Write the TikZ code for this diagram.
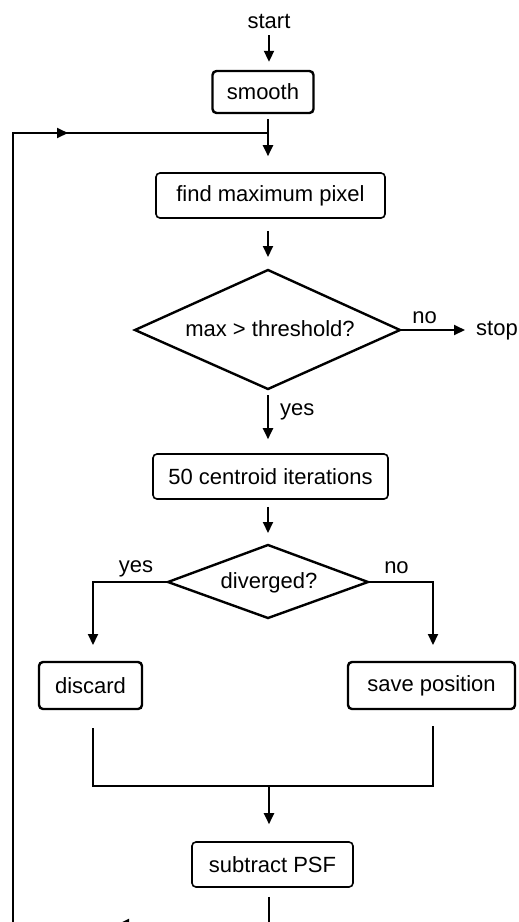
\documentclass[tikz,border=0pt]{standalone}
\usepackage{fontspec}
\setmainfont{Liberation Sans}
\usetikzlibrary{arrows.meta,calc}
\begin{document}
\begin{tikzpicture}[x=1pt,y=-1pt,
  every node/.style={font=\fontsize{22}{26}\selectfont, inner sep=0pt},
  thickbox/.style={draw, line width=2.4pt, rounded corners=4pt},
  thinbox/.style={draw, line width=1.6pt, rounded corners=4pt},
  arr/.style={line width=2pt, -{Triangle[length=11pt,width=10pt]}},
  ln/.style={line width=2.4pt, line join=miter},
  lbl/.style={anchor=base}]
\useasboundingbox (0,0) rectangle (519,922);
\clip (0,0) rectangle (519,922);

% nodes
\node[lbl] (start) at (269,28) {start};
\node[thickbox, minimum width=101pt, minimum height=42pt] (smooth) at (263,92) {smooth};
\node[thinbox, minimum width=229pt, minimum height=45pt] (findmax) at (270.5,195.5) {find maximum pixel};

\coordinate (d1t) at (268,270);
\coordinate (d1r) at (400,330);
\coordinate (d1b) at (268,389);
\coordinate (d1l) at (135,330);
\draw[ln] (d1t) -- (d1r) -- (d1b) -- (d1l) -- cycle;
\node (d1) at (270,328.5) {max > threshold?};
\node[lbl] (no1) at (424.5,323) {no};
\node[anchor=base west] (stop) at (476,335) {stop};
\node[anchor=base west] (yes1) at (280,415) {yes};

\node[thinbox, minimum width=235pt, minimum height=45pt] (cent) at (270.5,476.5) {50 centroid iterations};

\coordinate (d2t) at (268,545);
\coordinate (d2r) at (368,582);
\coordinate (d2b) at (268,618);
\coordinate (d2l) at (168,582);
\draw[ln] (d2t) -- (d2r) -- (d2b) -- (d2l) -- cycle;
\node (d2) at (269,582.5) {diverged?};
\node[lbl] (yes2) at (136,572) {yes};
\node[lbl] (no2) at (396.5,573) {no};

\node[thickbox, minimum width=103pt, minimum height=47pt] (discard) at (90.5,685.5) {discard};
\node[thickbox, minimum width=167pt, minimum height=47pt] (save) at (431.5,685.5) {save position};
\node[thinbox, minimum width=161pt, minimum height=45pt] (sub) at (272.5,864.5) {subtract PSF};

% helper coordinates
\coordinate (j) at (268,133);
\coordinate (tl) at (13,133);
\coordinate (ta) at (68,133);
\coordinate (bb) at (269,924);
\coordinate (bl) at (13,924);
\coordinate (ba) at (118,924);
\coordinate (yl) at (93,645);
\coordinate (nr) at (433,645);
\coordinate (ml) at (93,786);
\coordinate (mr) at (433,786);
\coordinate (mm) at (269,786);

% connectors
\draw[arr, shorten <=7pt, shorten >=8pt] (start.south) -- (start.south |- smooth.north);
\draw[line width=2pt, shorten <=5pt] (j |- smooth.south) -- (j);
\draw[arr, shorten >=16pt] (j) -- (j |- findmax.north);
\draw[arr, shorten <=12pt, shorten >=13pt] (d1t |- findmax.south) -- (d1t);
\draw[arr, shorten >=11pt] (d1r) -- (d1r -| stop.west);
\draw[arr, shorten <=6pt, shorten >=14pt] (d1b) -- (d1b |- cent.north);
\draw[arr, shorten <=7pt, shorten >=12pt] (d2t |- cent.south) -- (d2t);
\draw[arr] (d2l) -| (yl);
\draw[arr] (d2r) -| (nr);
\draw[ln, shorten <=18pt, shorten >=16pt] (ml |- discard.south) -- (ml) -- (mr) -- (mr |- save.south);
\draw[arr, shorten >=17pt] (mm) -- (mm |- sub.north);
\draw[ln, shorten <=9pt] (bb |- sub.south) -- (bb) -- (bl) -- (tl) -- (j);
\draw[arr] (bb) -- (ba);
\draw[arr] (tl) -- (ta);
\end{tikzpicture}
\end{document}
